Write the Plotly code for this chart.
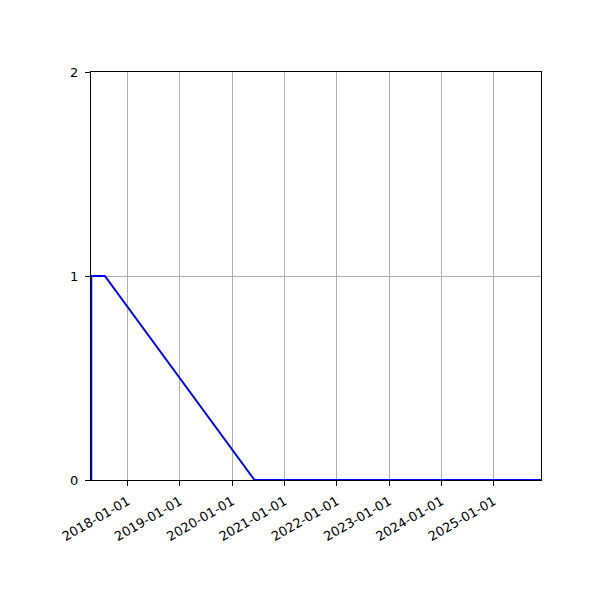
import plotly.graph_objects as go

# valores
datas = ["2017-04-22", "2017-04-22", "2017-07-26", "2020-06-05", "2025-11-27"]
valores = [0, 1, 1, 0, 0]

x_inicio = "2017-04-20"
x_fim = "2025-11-27"
anos_ticks = ["2018-01-01", "2019-01-01", "2020-01-01", "2021-01-01",
              "2022-01-01", "2023-01-01", "2024-01-01", "2025-01-01"]
y_ticks = [0, 1, 2]

fig = go.Figure()
fig.add_trace(go.Scatter(x=datas, y=valores, mode="lines",
                         line=dict(color="blue", width=2)))

eixo = dict(showline=True, linecolor="black", linewidth=1, mirror=True,
            ticks="outside", ticklen=5, tickcolor="black", tickwidth=1,
            showgrid=True, gridcolor="#b0b0b0", gridwidth=1, zeroline=False,
            tickfont=dict(family="DejaVu Sans", size=13, color="black"))

fig.update_xaxes(eixo, type="date", range=[x_inicio, x_fim],
                 tickvals=anos_ticks, ticktext=anos_ticks, tickangle=-30,
                 ticklabelstandoff=3)
fig.update_yaxes(eixo, range=[0, 2], tickvals=y_ticks, ticklabelstandoff=4)

# a pagina tem ~8px de margem no body, por isso o desconto
fig.update_layout(width=600, height=600, showlegend=False,
                  margin=dict(l=83, r=67, t=64, b=128),
                  plot_bgcolor="white", paper_bgcolor="white")

fig.write_html("out.html")
